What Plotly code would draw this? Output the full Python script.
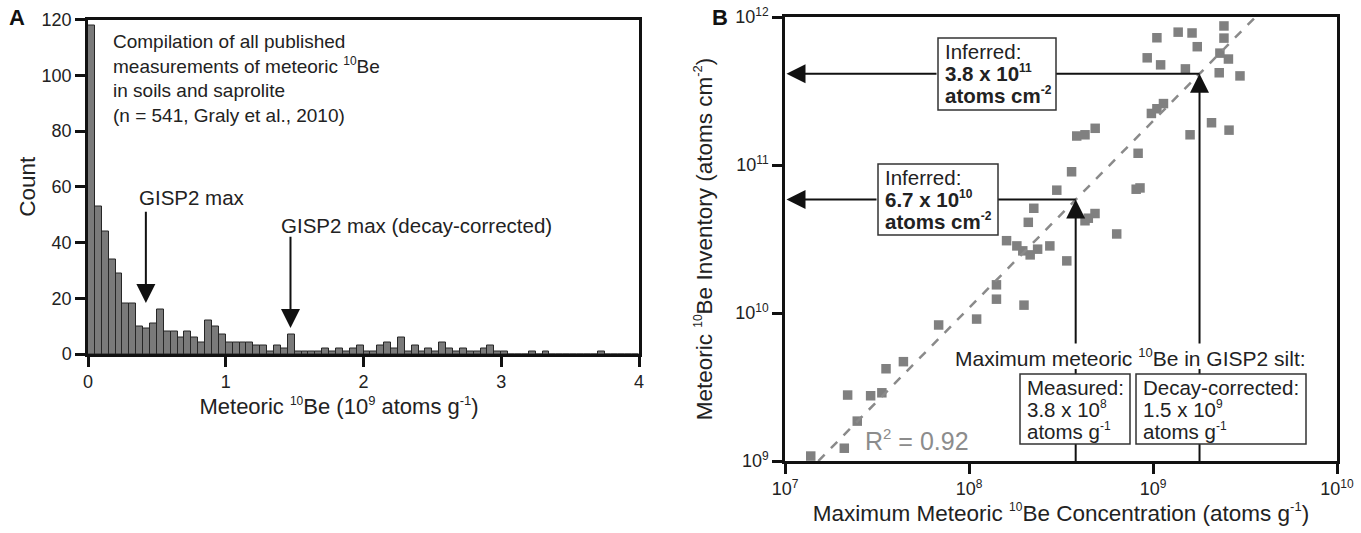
import numpy as np
import plotly.graph_objects as go

# ---------------- Panel A data: histogram of meteoric 10Be (10^9 atoms/g) ----------------
bin_width = 0.05
hist_counts = [118, 53, 44, 34, 29, 18, 18, 10, 9, 11,
               16, 8, 8, 6, 8, 6, 4, 12, 10, 7,
               4, 4, 4, 4, 3, 3, 1, 3, 2, 7,
               1, 1, 1, 1, 2, 1, 2, 1, 2, 3,
               1, 1, 3, 4, 2, 6, 1, 3, 1, 2,
               1, 4, 2, 1, 2, 1, 1, 2, 3, 1,
               1, 0, 0, 0, 1, 0, 1, 0, 0, 0,
               0, 0, 0, 0, 1, 0, 0, 0, 0, 0]
bin_left = [round(i * bin_width, 2) for i in range(len(hist_counts))]
bin_center = [b + bin_width / 2 for b in bin_left]

gisp2_max = 0.42          # arrow position (10^9 atoms/g)
gisp2_max_decay = 1.47

# ---------------- Panel B data: concentration vs inventory ----------------
conc = [1.38e7, 2.1e7, 2.19e7, 2.47e7, 2.92e7, 3.36e7, 3.54e7, 4.4e7, 6.84e7, 1.1e8,
        1.41e8, 1.41e8, 1.99e8, 1.6e8, 1.82e8, 1.96e8, 2.15e8, 2.36e8, 2.75e8, 3.4e8,
        6.35e8, 3.61e8, 3.0e8, 2.25e8, 2.1e8, 2.43e9, 2.43e9, 1.05e9, 1.37e9, 1.63e9,
        1.74e9, 2.31e9, 2.57e9, 9.3e8, 1.1e9, 1.5e9, 2.29e9, 2.97e9, 9.8e8, 1.05e9,
        1.14e9, 2.08e9, 2.59e9, 1.59e9, 3.85e8, 4.27e8, 4.85e8, 8.3e8, 8.5e8, 8.1e8,
        4.45e8, 4.84e8, 4.27e8]
inventory = [1.08e9, 1.22e9, 2.79e9, 1.86e9, 2.76e9, 2.89e9, 4.2e9, 4.69e9, 8.3e9, 9.1e9,
             1.55e10, 1.24e10, 1.13e10, 3.08e10, 2.84e10, 2.63e10, 2.47e10, 2.7e10, 2.84e10, 2.25e10,
             3.42e10, 9.0e10, 6.76e10, 5.1e10, 4.1e10, 8.7e11, 7.2e11, 7.24e11, 7.9e11, 7.8e11,
             6.3e11, 5.7e11, 5.2e11, 5.3e11, 4.75e11, 4.46e11, 4.2e11, 4.0e11, 2.23e11, 2.4e11,
             2.6e11, 1.93e11, 1.72e11, 1.6e11, 1.57e11, 1.6e11, 1.77e11, 1.2e11, 7.0e10, 6.86e10,
             4.37e10, 4.7e10, 4.2e10]

# log-log fit (R^2 = 0.92)
fit_slope = 1.263
fit_intercept = -0.070
fit_logx_range = [7.181, 9.557]

measured_conc = 3.8e8      # GISP2 measured
decay_conc = 1.79e9        # GISP2 decay-corrected (as drawn)

log_ticks = [7, 8, 9, 10]
logy_ticks = [9, 10, 11, 12]

FONT = "Liberation Sans, Arial, sans-serif"
BLACK = "#111111"
GRAY = "#808080"
TXT = "#222222"


def sup(t, size=12):
    return f"<sup><span style='font-size:{size}px'>{t}</span></sup>"


log_tick_text = ["10" + sup(v, 12) for v in log_ticks]
logy_tick_text = ["10" + sup(v, 12) for v in logy_ticks]

fig = go.Figure()

fig.add_trace(go.Bar(
    x=bin_center, y=hist_counts, width=bin_width,
    marker=dict(color="#7a7a7a", line=dict(color="#262626", width=1)),
    xaxis="x", yaxis="y", showlegend=False, hoverinfo="x+y"))

fig.add_trace(go.Scatter(
    x=conc, y=inventory, mode="markers",
    marker=dict(symbol="square", size=9.5, color=GRAY),
    xaxis="x2", yaxis="y2", showlegend=False))

fit_x = [10 ** v for v in fit_logx_range]
fit_y = [10 ** (fit_intercept + fit_slope * v) for v in fit_logx_range]
fig.add_trace(go.Scatter(
    x=fit_x, y=fit_y, mode="lines",
    line=dict(color="#8a8a8a", width=2.5, dash="dash"),
    xaxis="x2", yaxis="y2", showlegend=False))

W, H = 1361, 533
B_LEFT, B_RIGHT, B_TOP, B_BOTTOM = 785, 1337, 17, 461   # panel B plot area (px)


def px2paper_x(px):
    return px / W


def px2paper_y(py):
    return 1 - py / H


def lx2px(lx):   # log10 concentration -> px
    return B_LEFT + (lx - 7) * (B_RIGHT - B_LEFT) / 3


def ly2px(ly):   # log10 inventory -> px
    return B_BOTTOM - (ly - 9) * (B_BOTTOM - B_TOP) / 3


axis_common = dict(showline=True, linecolor=BLACK, linewidth=2.5, mirror=True,
                   ticks="outside", ticklen=10, tickwidth=2.5, tickcolor=BLACK,
                   showgrid=False, zeroline=False,
                   tickfont=dict(family=FONT, size=18, color=TXT))

NB = "&nbsp;"
fig.update_layout(
    width=W, height=H,
    margin=dict(l=0, r=0, t=0, b=0, autoexpand=False),
    plot_bgcolor="white", paper_bgcolor="white",
    font=dict(family=FONT, size=18, color=TXT),
    bargap=0,
    xaxis=dict(domain=[px2paper_x(88), px2paper_x(639)], range=[0, 4],
               tickvals=[0, 1, 2, 3, 4], anchor="y",
               title=dict(text="Meteoric " + sup(10) + "Be (10" + sup(9, 13) + " atoms g" + sup("-1", 13) + ")" + NB * 8,
                          font=dict(size=22), standoff=8),
               **axis_common),
    yaxis=dict(domain=[px2paper_y(354), px2paper_y(19.5)], range=[0, 120],
               tickvals=[0, 20, 40, 60, 80, 100, 120], anchor="x",
               title=dict(text="Count", font=dict(size=22.5), standoff=0),
               **axis_common),
    xaxis2=dict(domain=[px2paper_x(B_LEFT), px2paper_x(B_RIGHT)], type="log", range=[7, 10],
                tickvals=[10 ** v for v in log_ticks], ticktext=log_tick_text, anchor="y2",
                title=dict(text="Maximum Meteoric " + sup(10) + "Be Concentration (atoms g" + sup("-1", 13) + ")",
                           font=dict(size=22.5), standoff=0),
                **axis_common),
    yaxis2=dict(domain=[px2paper_y(B_BOTTOM), px2paper_y(B_TOP)], type="log", range=[9, 12],
                tickvals=[10 ** v for v in logy_ticks], ticktext=logy_tick_text, anchor="x2",
                title=dict(text="Meteoric " + sup(10) + "Be Inventory (atoms cm" + sup("-2", 13) + ")",
                           font=dict(size=22.5), standoff=17),
                **axis_common),
)

ann = []
shapes = []
# panel letters
ann.append(dict(text="<b>A</b>", x=px2paper_x(17), y=px2paper_y(17), xref="paper", yref="paper",
                showarrow=False, font=dict(size=22, color=BLACK), xanchor="center", yanchor="middle"))
ann.append(dict(text="<b>B</b>", x=px2paper_x(720), y=px2paper_y(17), xref="paper", yref="paper",
                showarrow=False, font=dict(size=22, color=BLACK), xanchor="center", yanchor="middle"))

# panel A notes
ann.append(dict(text="Compilation of all published<br>measurements of meteoric " + sup(10) + "Be<br>"
                     "in soils and saprolite<br>(n = 541, Graly et al., 2010)",
                x=0.17, y=116.5, xref="x", yref="y", showarrow=False, align="left",
                xanchor="left", yanchor="top", font=dict(size=19, color=TXT)))
ann.append(dict(text="GISP2 max", x=0.355, y=56, xref="x", yref="y", showarrow=False,
                xanchor="left", yanchor="middle", font=dict(size=20.5, color=TXT)))
ann.append(dict(text="", x=gisp2_max, y=18.3, ax=gisp2_max, ay=51.6, xref="x", yref="y",
                axref="x", ayref="y", showarrow=True, arrowhead=2, arrowsize=1.9,
                arrowwidth=2, arrowcolor=BLACK))
ann.append(dict(text="GISP2 max (decay-corrected)", x=1.39, y=46, xref="x", yref="y",
                showarrow=False, xanchor="left", yanchor="middle", font=dict(size=20.5, color=TXT)))
ann.append(dict(text="", x=gisp2_max_decay, y=9.3, ax=gisp2_max_decay, ay=42.6, xref="x", yref="y",
                axref="x", ayref="y", showarrow=True, arrowhead=2, arrowsize=1.9,
                arrowwidth=2, arrowcolor=BLACK))

# ---------------- panel B: arrows, boxes and labels ----------------
lm, ld = np.log10(measured_conc), np.log10(decay_conc)
inf_m = fit_intercept + fit_slope * lm
inf_d = fit_intercept + fit_slope * ld

label_top, label_bottom = 345, 369          # "Maximum meteoric ..." line (px)
box_top, box_bottom = 374, 444
boxes = {
    "inf_d": (938, 38, 1056, 110),
    "inf_m": (878, 164, 998, 235),
    "meas": (1020, box_top, 1130, box_bottom),
    "decay": (1136, box_top, 1306, box_bottom),
}
box_lines = {
    "inf_d": ["Inferred:", "<b>3.8 x 10" + sup(11, 12) + "</b>", "<b>atoms cm" + sup("-2", 12) + "</b>"],
    "inf_m": ["Inferred:", "<b>6.7 x 10" + sup(10, 12) + "</b>", "<b>atoms cm" + sup("-2", 12) + "</b>"],
    "meas": ["Measured:", "3.8 x 10" + sup(8, 12), "atoms g" + sup("-1", 12)],
    "decay": ["Decay-corrected:", "1.5 x 10" + sup(9, 12), "atoms g" + sup("-1", 12)],
}


def pline(x0, y0, x1, y1):
    shapes.append(dict(type="line", xref="paper", yref="paper",
                       x0=px2paper_x(x0), y0=px2paper_y(y0), x1=px2paper_x(x1), y1=px2paper_y(y1),
                       line=dict(color=BLACK, width=2)))


def parrow(x_tip, y_tip, x_tail, y_tail):
    ann.append(dict(text="", x=px2paper_x(x_tip), y=px2paper_y(y_tip),
                    ax=x_tail - x_tip, ay=y_tail - y_tip,
                    xref="paper", yref="paper", axref="pixel", ayref="pixel",
                    showarrow=True, arrowhead=2, arrowsize=1.9, arrowwidth=2, arrowcolor=BLACK))


for lx, ly, key in [(lm, inf_m, "inf_m"), (ld, inf_d, "inf_d")]:
    xp, yp = lx2px(lx), ly2px(ly)
    l, t, r, b = boxes[key]
    # vertical arrow from x axis up to the fitted line
    pline(xp, B_BOTTOM, xp, label_bottom)
    parrow(xp, yp, xp, label_top)
    # horizontal arrow from the fitted line to the y axis, interrupted by the box
    pline(xp, yp, r, yp)
    parrow(B_LEFT + 1.5, yp, l, yp)

for key, (l, t, r, b) in boxes.items():
    shapes.append(dict(type="rect", xref="paper", yref="paper",
                       x0=px2paper_x(l), x1=px2paper_x(r), y0=px2paper_y(b), y1=px2paper_y(t),
                       fillcolor="white", line=dict(color="#333", width=1.5), layer="above"))
    for i, line in enumerate(box_lines[key]):
        ann.append(dict(text=line, x=px2paper_x(l + 5), y=px2paper_y(t + 13 + 21.8 * i),
                        xref="paper", yref="paper", showarrow=False, xanchor="left", yanchor="middle",
                        font=dict(size=20.5, color=TXT)))

ann.append(dict(text="Maximum meteoric " + sup(10, 13) + "Be in GISP2 silt:",
                x=px2paper_x(1130), y=px2paper_y((label_top + label_bottom) / 2), xref="paper", yref="paper",
                showarrow=False, xanchor="center", yanchor="middle",
                font=dict(size=21, color=TXT)))

ann.append(dict(text="R" + sup(2, 15) + " = 0.92", x=7.717, y=9.142, xref="x2", yref="y2", showarrow=False,
                xanchor="center", yanchor="middle", font=dict(size=25, color="#8c8c8c")))

fig.update_layout(annotations=ann, shapes=shapes)
fig.write_html("out.html", config={"displayModeBar": False},
               post_script="document.body.style.margin='0';document.body.style.overflow='hidden';")
